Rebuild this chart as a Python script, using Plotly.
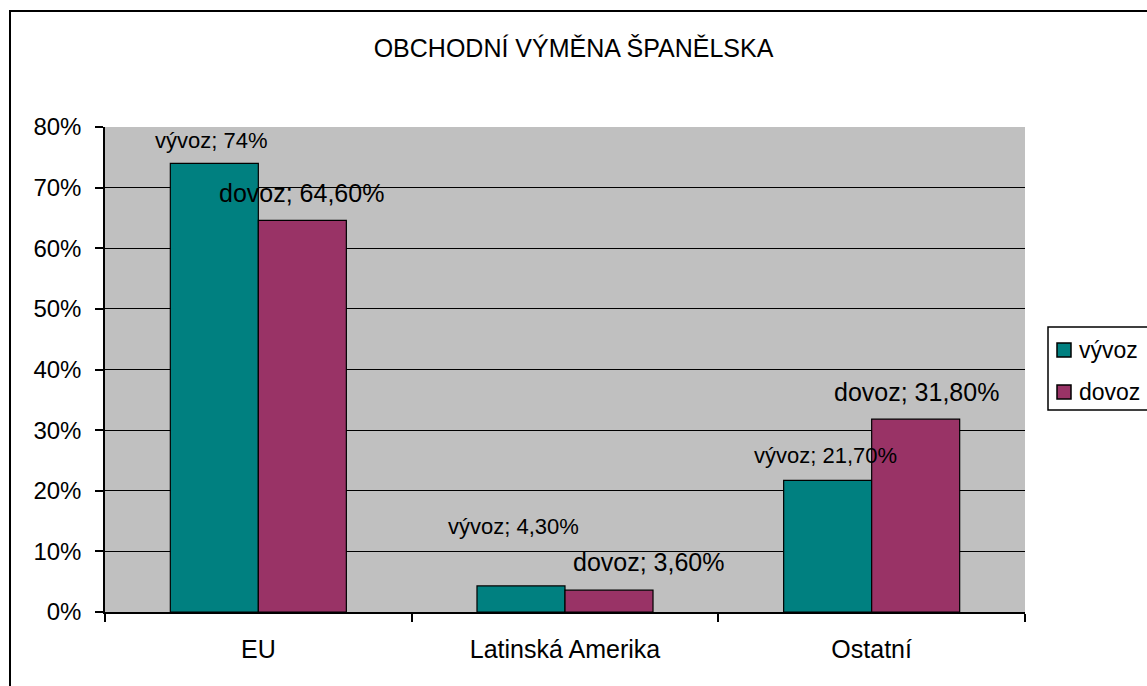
import plotly.graph_objects as go

categories = ["EU", "Latinská Amerika", "Ostatní"]
series_names = ["vývoz", "dovoz"]
vyvoz = [74.0, 4.3, 21.7]
dovoz = [64.6, 3.6, 31.8]
vyvoz_labels = ["74%", "4,30%", "21,70%"]
dovoz_labels = ["64,60%", "3,60%", "31,80%"]
y_ticks = [0, 10, 20, 30, 40, 50, 60, 70, 80]
y_tick_text = [f"{v}%" for v in y_ticks]

colors = ["#008080", "#993366"]
FONT = "Liberation Sans, Arial, sans-serif"

W, H = 1147, 686
L, R, T, B = 105, 122, 127, 74
pw, ph = W - L - R, H - T - B


def px_x(px):
    return (px - L) / pw


def px_y(py):
    return (T + ph - py) / ph


fig = go.Figure()
for name, vals, col in zip(series_names, [vyvoz, dovoz], colors):
    fig.add_trace(go.Bar(
        x=categories, y=vals, name=name, showlegend=False,
        marker=dict(color=col, line=dict(color="black", width=1.2)),
    ))

# data labels placed like the original (pixel offsets from bar tops)
lab_offsets = {
    "vývoz": [(-47, 23), (-52, 59), (-46, 25)],
    "dovoz": [(43, 27), (84, 28), (45, 27)],
}
lab_sizes = {"vývoz": 22, "dovoz": 25}
annotations = []
for name, vals, labs in [("vývoz", vyvoz, vyvoz_labels), ("dovoz", dovoz, dovoz_labels)]:
    for c, v, lab, (dx, dy) in zip(categories, vals, labs, lab_offsets[name]):
        annotations.append(dict(
            x=c, y=v, xref="x", yref="y", text=f"{name}; {lab}",
            showarrow=False, xshift=dx, yshift=dy,
            xanchor="center", yanchor="middle",
            font=dict(family=FONT, size=lab_sizes[name], color="black"),
        ))


def open_box(x0, y0, x1, y1):
    # left, top and bottom sides only; the right side lies beyond the page
    return (f"M {px_x(x1)} {px_y(y0)} L {px_x(x0)} {px_y(y0)} "
            f"L {px_x(x0)} {px_y(y1)} L {px_x(x1)} {px_y(y1)}")


shapes = []
# outer chart frame (runs off the right and bottom edges)
shapes.append(dict(
    type="path", xref="paper", yref="paper",
    path=f"M {px_x(W + 60)} {px_y(11)} L {px_x(10)} {px_y(11)} L {px_x(10)} {px_y(H + 60)}",
    line=dict(color="black", width=2), layer="below",
))

# legend box (runs off the right edge as in the original)
shapes.append(dict(
    type="path", xref="paper", yref="paper",
    path=open_box(1048, 327, W + 60, 410) + " Z",
    line=dict(color="rgba(0,0,0,0)", width=0), fillcolor="white", layer="above",
))
shapes.append(dict(
    type="path", xref="paper", yref="paper",
    path=open_box(1048, 327, W + 60, 410),
    line=dict(color="black", width=1.5), layer="above",
))
legend_rows = [350, 392]
for name, col, cy in zip(series_names, colors, legend_rows):
    shapes.append(dict(
        type="rect", xref="paper", yref="paper",
        x0=px_x(1057), x1=px_x(1071), y0=px_y(cy + 7), y1=px_y(cy - 7),
        line=dict(color="black", width=1.5), fillcolor=col, layer="above",
    ))
    annotations.append(dict(
        x=px_x(1077), y=px_y(cy), xref="paper", yref="paper", text=name,
        showarrow=False, xanchor="left", yanchor="middle",
        font=dict(family=FONT, size=23, color="black"),
    ))

fig.update_layout(
    width=W, height=H,
    margin=dict(l=L, r=R, t=T, b=B, autoexpand=False),
    paper_bgcolor="white", plot_bgcolor="#C0C0C0",
    barmode="group", bargap=0.426, bargroupgap=0,
    title=dict(text="OBCHODNÍ VÝMĚNA ŠPANĚLSKA", xref="container", x=0.5,
               y=1 - 48 / H, yref="container", xanchor="center", yanchor="middle",
               font=dict(family=FONT, size=25, color="black")),
    font=dict(family=FONT, color="black"),
    showlegend=False,
    annotations=annotations,
    shapes=shapes,
    xaxis=dict(
        type="category", tickson="boundaries", ticks="outside", ticklen=8,
        tickcolor="black", tickwidth=1.5, showline=True, linecolor="black", linewidth=2,
        showgrid=False, ticklabelstandoff=14,
        tickfont=dict(family=FONT, size=25, color="black"),
    ),
    yaxis=dict(
        range=[0, 80], tickvals=y_ticks, ticktext=y_tick_text,
        ticks="outside", ticklen=8, tickcolor="black", tickwidth=1.5,
        showline=True, linecolor="black", linewidth=1.5, showgrid=False,
        zeroline=False, ticklabelstandoff=9,
        tickfont=dict(family=FONT, size=24, color="black"),
        minor=dict(tickvals=y_ticks[1:-1], showgrid=True, gridcolor="black",
                   gridwidth=1.2, ticks=""),
    ),
)

fig.write_html("out.html", config={"displayModeBar": False},
               post_script="document.body.style.margin='0';")
